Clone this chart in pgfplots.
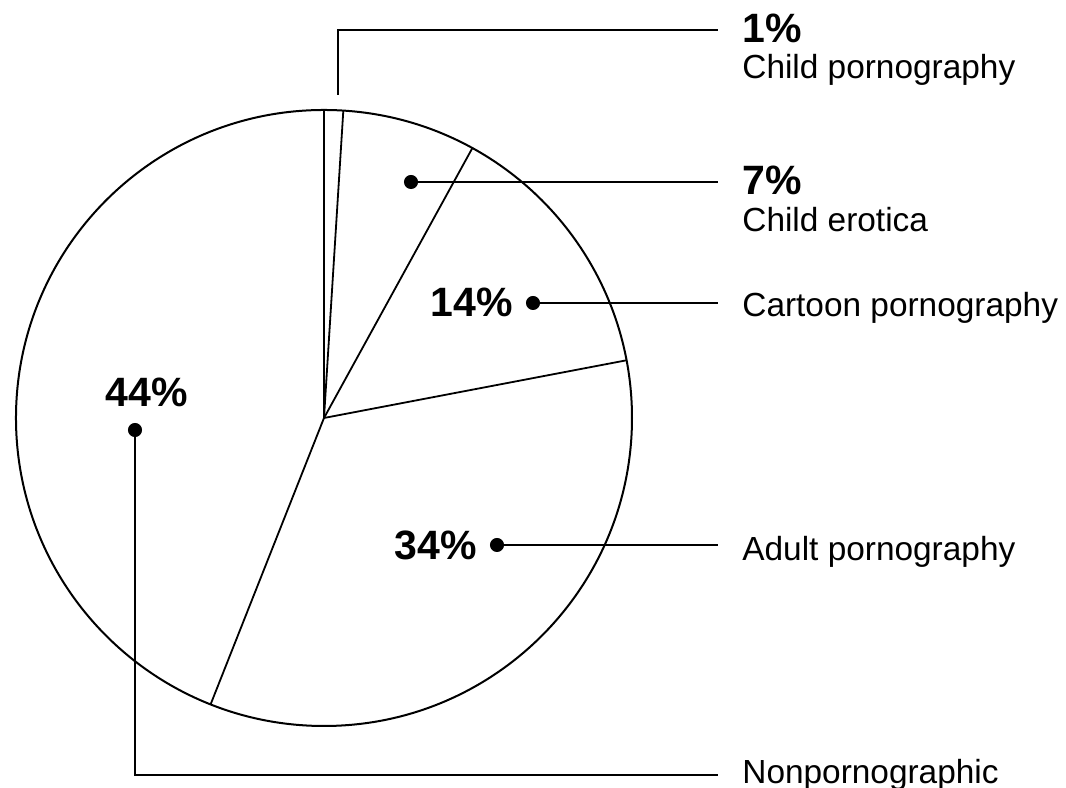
\documentclass[border=0pt]{standalone}
\usepackage{pgfplots}
\pgfplotsset{compat=1.18}
\usepackage{fontspec}
\setmainfont{Liberation Sans}
\newcommand\lab{\fontsize{16.7}{20}\selectfont}
\newcommand\pct{\fontsize{20.5}{24}\selectfont\bfseries}
\begin{document}
\begin{tikzpicture}
\begin{axis}[name=ax, hide axis, scale only axis, x=154pt, y=154pt,
  xmin=-1.0519, xmax=2.4091, ymin=-1.2013, ymax=1.3571, clip=false]
% pie outline
\draw[line width=1pt] (axis cs:0,0) circle [radius=1];
% slice boundaries from the shares (percent), starting at 90 deg, clockwise
\def\acc{90}
\pgfplotsforeachungrouped \p in {1,7,14,34,44}{%
  \pgfmathsetmacro\cx{cos(\acc)}%
  \pgfmathsetmacro\cy{sin(\acc)}%
  \edef\temp{\noexpand\addplot[draw=black, line width=0.9pt] coordinates {(0,0) (\cx,\cy)};}%
  \temp
  \pgfmathsetmacro\acc{\acc-3.6*\p}%
  \global\let\acc\acc
}
% leader lines
\addplot[draw=black, line width=0.8pt] coordinates {(0.0455,1.0487) (0.0455,1.2597) (1.2792,1.2597)};
\addplot[draw=black, line width=0.8pt] coordinates {(0.2825,0.7662) (1.2792,0.7662)};
\addplot[draw=black, line width=0.8pt] coordinates {(0.6786,0.3734) (1.2792,0.3734)};
\addplot[draw=black, line width=0.8pt] coordinates {(0.5617,-0.4123) (1.2792,-0.4123)};
\addplot[draw=black, line width=0.8pt] coordinates {(-0.6136,-0.0390) (-0.6136,-1.1591) (1.2792,-1.1591)};
% dots
\addplot[only marks, mark=*, mark size=3.3pt, black] coordinates {(0.2825,0.7662) (0.6786,0.3734) (0.5617,-0.4123) (-0.6136,-0.0390)};
% percent labels
\node[anchor=base west, font=\pct, inner sep=0pt] at (axis cs:1.3571,1.2175) {1\%};
\node[anchor=base west, font=\pct, inner sep=0pt] at (axis cs:1.3571,0.7240) {7\%};
\node[anchor=base east, font=\pct, inner sep=0pt] at (axis cs:0.6136,0.3279) {14\%};
\node[anchor=base east, font=\pct, inner sep=0pt] at (axis cs:0.4968,-0.4610) {34\%};
\node[anchor=base, font=\pct, inner sep=0pt] at (axis cs:-0.5747,0.0357) {44\%};
% category labels
\node[anchor=base west, font=\lab, inner sep=0pt] at (axis cs:1.3571,1.1006) {Child pornography};
\node[anchor=base west, font=\lab, inner sep=0pt] at (axis cs:1.3571,0.6039) {Child erotica};
\node[anchor=base west, font=\lab, inner sep=0pt] at (axis cs:1.3571,0.3279) {Cartoon pornography};
\node[anchor=base west, font=\lab, inner sep=0pt] at (axis cs:1.3571,-0.4643) {Adult pornography};
\node[anchor=base west, font=\lab, inner sep=0pt] at (axis cs:1.3571,-1.1883) {Nonpornographic};
\end{axis}
\pgfresetboundingbox
\useasboundingbox (ax.south west) rectangle (ax.north east);
\end{tikzpicture}
\end{document}
